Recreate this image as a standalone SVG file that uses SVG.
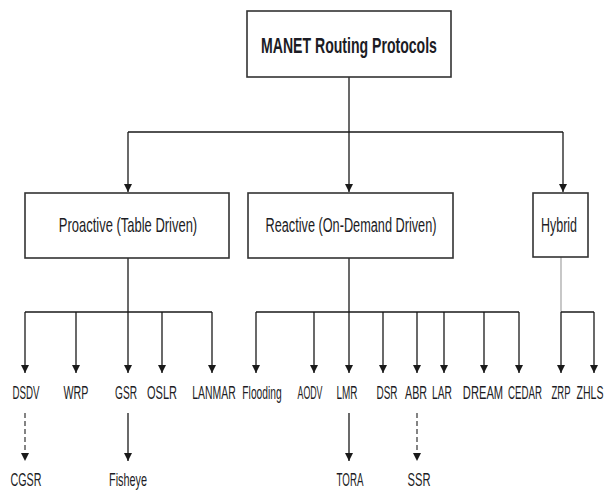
<svg xmlns="http://www.w3.org/2000/svg" width="608" height="490" viewBox="0 0 608 490">
<style>
.box{fill:#fff;stroke:#333;stroke-width:1.6}
.ln{fill:none;stroke:#1a1a1a;stroke-width:1.3}
.ar{fill:none;stroke:#1a1a1a;stroke-width:1.3;marker-end:url(#ah)}
.dash{fill:none;stroke:#333;stroke-width:1.2;stroke-dasharray:5 3;marker-end:url(#ah)}
.gray{fill:none;stroke:#aaa;stroke-width:1.3}
text{font-family:"Liberation Sans",Arial,sans-serif;fill:#1c1c24;text-anchor:middle}
.t1{font-size:22px;font-weight:bold}
.t2{font-size:20px}
.t3{font-size:18px}
</style>
<defs>
<marker id="ah" markerWidth="8" markerHeight="10" refX="8" refY="4" orient="auto" markerUnits="userSpaceOnUse">
<path d="M0,0 L8,4 L0,8 Z" fill="#1a1a1a"/>
</marker>
</defs>
<rect width="608" height="490" fill="#fff"/>
<g id="connectors">
<path class="ln" d="M349,77 V132 M128,132 H563"/>
<path class="ar" d="M128,132 V192"/>
<path class="ar" d="M349,132 V192"/>
<path class="ar" d="M563,132 V192"/>
<path class="ln" d="M128,258 V312 M25,312 H212"/>
<path class="ar" d="M25,312 V373"/>
<path class="ar" d="M76,312 V373"/>
<path class="ar" d="M128,312 V373"/>
<path class="ar" d="M162,312 V373"/>
<path class="ar" d="M212,312 V373"/>
<path class="ln" d="M349,258 V312 M256,312 H519"/>
<path class="ar" d="M256,312 V373"/>
<path class="ar" d="M314,312 V373"/>
<path class="ar" d="M349,312 V373"/>
<path class="ar" d="M383,312 V373"/>
<path class="ar" d="M417,312 V373"/>
<path class="ar" d="M444,312 V373"/>
<path class="ar" d="M484,312 V373"/>
<path class="ar" d="M519,312 V373"/>
<path class="gray" d="M561,257 V312"/>
<path class="ln" d="M561,312 H594"/>
<path class="ar" d="M561,312 V373"/>
<path class="ar" d="M594,312 V373"/>
<path class="dash" d="M25,413 V461"/>
<path class="ar" d="M128,413 V461"/>
<path class="ar" d="M349,413 V461"/>
<path class="dash" d="M417,413 V461"/>
</g>
<g id="root"><rect class="box" x="247" y="11" width="204" height="66"/><text class="t1" transform="translate(349,53) scale(0.64,1)">MANET Routing Protocols</text></g>
<g id="proactive"><rect class="box" x="25" y="193" width="204" height="65"/><text class="t2" transform="translate(128,232) scale(0.649,1)">Proactive (Table Driven)</text></g>
<g id="reactive"><rect class="box" x="248" y="193" width="205" height="65"/><text class="t2" transform="translate(351,232) scale(0.636,1)">Reactive (On-Demand Driven)</text></g>
<g id="hybrid"><rect class="box" x="533" y="193" width="55" height="64"/><text class="t2" transform="translate(559,232) scale(0.623,1)">Hybrid</text></g>
<g id="dsdv"><text class="t3" transform="translate(26,399) scale(0.54,1)">DSDV</text></g>
<g id="wrp"><text class="t3" transform="translate(76,399) scale(0.595,1)">WRP</text></g>
<g id="gsr"><text class="t3" transform="translate(126,399) scale(0.564,1)">GSR</text></g>
<g id="oslr"><text class="t3" transform="translate(162,399) scale(0.612,1)">OSLR</text></g>
<g id="lanmar"><text class="t3" transform="translate(214,399) scale(0.58,1)">LANMAR</text></g>
<g id="flooding"><text class="t3" transform="translate(262,399) scale(0.57,1)">Flooding</text></g>
<g id="aodv"><text class="t3" transform="translate(310,399) scale(0.49,1)">AODV</text></g>
<g id="lmr"><text class="t3" transform="translate(347,399) scale(0.553,1)">LMR</text></g>
<g id="dsr"><text class="t3" transform="translate(387,399) scale(0.553,1)">DSR</text></g>
<g id="abr"><text class="t3" transform="translate(416,399) scale(0.595,1)">ABR</text></g>
<g id="lar"><text class="t3" transform="translate(442,399) scale(0.571,1)">LAR</text></g>
<g id="dream"><text class="t3" transform="translate(483,399) scale(0.62,1)">DREAM</text></g>
<g id="cedar"><text class="t3" transform="translate(525,399) scale(0.54,1)">CEDAR</text></g>
<g id="zrp"><text class="t3" transform="translate(561,399) scale(0.528,1)">ZRP</text></g>
<g id="zhls"><text class="t3" transform="translate(590,399) scale(0.587,1)">ZHLS</text></g>
<g id="cgsr"><text class="t3" transform="translate(26,486) scale(0.596,1)">CGSR</text></g>
<g id="fisheye"><text class="t3" transform="translate(128,486) scale(0.603,1)">Fisheye</text></g>
<g id="tora"><text class="t3" transform="translate(350,486) scale(0.54,1)">TORA</text></g>
<g id="ssr"><text class="t3" transform="translate(419,486) scale(0.622,1)">SSR</text></g>
</svg>
